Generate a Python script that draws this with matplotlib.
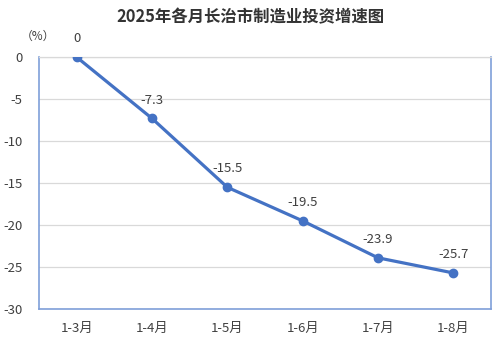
import matplotlib
matplotlib.use('Agg')
import matplotlib.pyplot as plt

plt.rcParams['font.family'] = ['Noto Sans CJK SC', 'DejaVu Sans']

months = ['1-3月', '1-4月', '1-5月', '1-6月', '1-7月', '1-8月']
growth = [0, -7.3, -15.5, -19.5, -23.9, -25.7]
yticks = [0, -5, -10, -15, -20, -25, -30]

blue = '#4472C4'
txt = '#404040'

fig = plt.figure(figsize=(5, 3.4), dpi=100)
ax = fig.add_axes([0.078, 0.091, 0.904, 0.741])

x = list(range(len(months)))
ax.plot(x, growth, color=blue, lw=2.3, marker='o', ms=6, zorder=3)
for xi, v in zip(x, growth):
    lab = '0' if v == 0 else f'{v:g}'
    ax.annotate(lab, (xi, v), xytext=(0, 8.5), textcoords='offset points',
                ha='center', va='bottom', fontsize=9.5, color=txt)

ax.set_xlim(-0.5, len(months) - 0.5)
ax.set_ylim(-30, 0)
ax.set_yticks(yticks)
ax.set_yticklabels([str(t) for t in yticks])
ax.set_xticks(x)
ax.set_xticklabels(months)
ax.tick_params(axis='both', length=0, labelsize=9.5, colors=txt)
ax.tick_params(axis='x', pad=9)
ax.tick_params(axis='y', pad=12)
ax.grid(axis='y', color='#d9d9d9', lw=0.9)
ax.set_axisbelow(True)

for side in ['left', 'bottom', 'right']:
    ax.spines[side].set_color('#7f9fd9')
    ax.spines[side].set_linewidth(1.2)
ax.spines['top'].set_color('#d9d9d9')
ax.spines['top'].set_linewidth(0.9)

fig.text(0.5, 0.95, '2025年各月长治市制造业投资增速图', ha='center', va='center',
         fontsize=11.8, fontweight='bold', color='#333333')
fig.text(0.076, 0.893, '（%）', ha='center', va='center', fontsize=8.5, color=txt)

fig.savefig('out.png', dpi=100)
